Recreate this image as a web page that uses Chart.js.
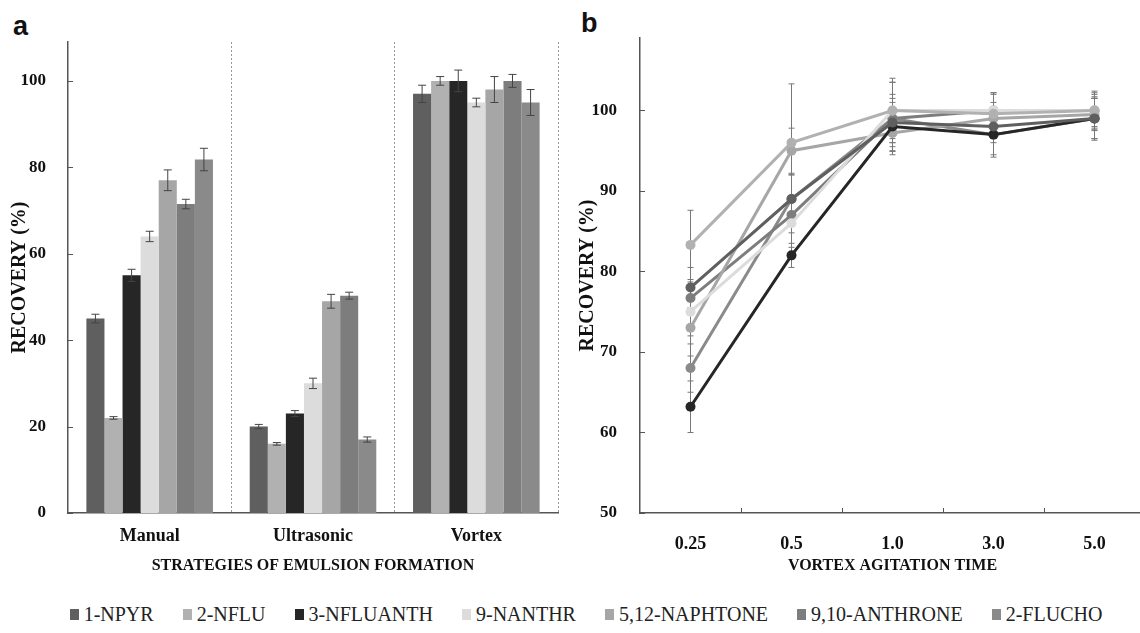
<!DOCTYPE html>
<html>
<head>
<meta charset="utf-8">
<script src="https://cdn.jsdelivr.net/npm/chart.js@4"></script>
<style>
  html, body { margin: 0; padding: 0; background: #fff; overflow: hidden; }
  body { width: 1140px; height: 633px; position: relative; }
  .panel { position: absolute; top: 0; }
  .tag { position: absolute; font-family: "Liberation Sans", Arial, sans-serif; font-weight: bold; font-size: 27px; color: #111; }
  #legend { position: absolute; left: 0; width: 1172px; top: 603px; display: flex; justify-content: center;
            gap: 29px; color: #222; }
  #legend span.item { display: flex; align-items: center; font-family: 'Liberation Serif', serif; font-size: 20px; }
  #legend i { display: inline-block; width: 9px; height: 11px; margin-right: 5px; }
</style>
</head>
<body>
<div class="tag" style="left:13px;top:11px">a</div>
<div class="tag" style="left:581px;top:8px">b</div>
<div class="panel" style="left:0;width:570px;height:580px"><canvas id="chartA"></canvas></div>
<div class="panel" style="left:570px;width:580px;height:580px"><canvas id="chartB"></canvas></div>
<div id="legend"></div>
<script>
const compounds = ['1-NPYR', '2-NFLU', '3-NFLUANTH', '9-NANTHR', '5,12-NAPHTONE', '9,10-ANTHRONE', '2-FLUCHO'];
const colors = ['#5f5f5f', '#b1b1b1', '#262626', '#dcdcdc', '#a6a6a6', '#7d7d7d', '#8a8a8a'];

// panel a: strategies of emulsion formation
const strategies = ['Manual', 'Ultrasonic', 'Vortex'];
const recoveryA = [
    [45, 20, 97],
    [22, 16, 100],
    [55, 23, 100],
    [64, 30, 95],
    [77, 49, 98],
    [71.5, 50.3, 100],
    [81.8, 17, 95]
];
const errorsA = [
    [1, 0.5, 2],
    [0.3, 0.3, 1],
    [1.4, 0.7, 2.5],
    [1.2, 1.2, 1],
    [2.4, 1.6, 3],
    [1.1, 0.8, 1.5],
    [2.6, 0.6, 3]
];
const yTicksA = [0, 20, 40, 60, 80, 100];

// panel b: vortex agitation time
const times = ['0.25', '0.5', '1.0', '3.0', '5.0'];
const recoveryB = [
    [78, 89, 98.5, 98, 99],
    [83.3, 96, 100, 99.6, 100],
    [63.2, 82, 98, 97, 99],
    [75, 86, 100, 100, 100],
    [73, 95, 97.2, 99, 99.5],
    [76.7, 87, 99, 100, 100],
    [68, 89, 99, 97, 99]
];
const errorsB = [
    [2.5, 3, 3, 2, 2.5],
    [4.3, 7.3, 4, 2.6, 2.4],
    [3.2, 1.5, 3, 2.5, 2.7],
    [3, 3, 3.5, 2, 2],
    [3.5, 2.8, 2.3, 2, 2],
    [2, 2.2, 4.5, 2.2, 2.2],
    [3, 3, 3, 2.8, 2.5]
];
const yTicksB = [50, 60, 70, 80, 90, 100];

const serif = '"Liberation Serif", "Times New Roman", serif';
const axisColor = '#555';

const errorBars = {
    id: 'errorBars',
    beforeDatasetsDraw(chart, args, opts) { if (opts.behind) draw(chart, opts); },
    afterDatasetsDraw(chart, args, opts) { if (!opts.behind) draw(chart, opts); }
};
function draw(chart, opts) {
    const ctx = chart.ctx;
    const y = chart.scales.y;
    ctx.save();
    ctx.strokeStyle = opts.color;
    ctx.lineWidth = 1;
    chart.data.datasets.forEach((ds, i) => {
        const meta = chart.getDatasetMeta(i);
        meta.data.forEach((el, j) => {
            const top = y.getPixelForValue(ds.data[j] + ds.errors[j]);
            const bot = y.getPixelForValue(ds.data[j] - ds.errors[j]);
            ctx.beginPath();
            ctx.moveTo(el.x, top); ctx.lineTo(el.x, bot);
            ctx.moveTo(el.x - opts.cap, top); ctx.lineTo(el.x + opts.cap, top);
            ctx.moveTo(el.x - opts.cap, bot); ctx.lineTo(el.x + opts.cap, bot);
            ctx.stroke();
        });
    });
    ctx.restore();
}

// short tick marks pointing into the plot
const innerTicks = {
    id: 'innerTicks',
    afterDraw(chart, args, opts) {
        const ctx = chart.ctx;
        const x = chart.scales.x, y = chart.scales.y;
        ctx.save();
        ctx.strokeStyle = axisColor;
        ctx.lineWidth = 1;
        ctx.beginPath();
        y.ticks.forEach(t => {
            const py = Math.round(y.getPixelForValue(t.value)) + 0.5;
            ctx.moveTo(x.left, py); ctx.lineTo(x.left + 5, py);
        });
        if (opts.xTicks) {
            for (let i = 1; i < x.ticks.length; i++) {
                const px = Math.round((x.getPixelForValue(i - 1) + x.getPixelForValue(i)) / 2) + 0.5;
                ctx.moveTo(px, y.bottom); ctx.lineTo(px, y.bottom - 5);
            }
        }
        ctx.stroke();
        ctx.restore();
    }
};

new Chart(document.getElementById('chartA'), {
    type: 'bar',
    data: {
        labels: strategies,
        datasets: compounds.map((name, i) => ({
            label: name,
            data: recoveryA[i],
            errors: errorsA[i],
            backgroundColor: colors[i],
            borderWidth: 0,
            categoryPercentage: 0.775,
            barPercentage: 1
        }))
    },
    options: {
        responsive: true,
        maintainAspectRatio: false,
        animation: false,
        layout: { padding: { top: 42, right: 12, left: 0, bottom: 0 } },
        plugins: {
            legend: { display: false },
            tooltip: { enabled: false },
            errorBars: { color: '#444', cap: 4, behind: false },
            innerTicks: { xTicks: false }
        },
        scales: {
            x: {
                offset: true,
                grid: { display: true, offset: true, drawTicks: false, color: '#999', lineWidth: 1 },
                border: { display: true, color: axisColor, width: 1.5, dash: [2, 2] },
                ticks: { color: '#111', padding: 13, font: { family: serif, size: 18, weight: 'bold' } },
                title: { display: true, text: 'STRATEGIES OF EMULSION FORMATION', color: '#111',
                         padding: { top: 0, bottom: 5 }, font: { family: serif, size: 16, weight: 'bold' } },
                afterFit: s => { s.height = 67; }
            },
            y: {
                min: 0,
                max: 109,
                grid: { display: false },
                border: { display: true, color: axisColor, width: 1.5 },
                afterBuildTicks: s => { s.ticks = yTicksA.map(v => ({ value: v })); },
                ticks: { color: '#111', padding: 14, font: { family: serif, size: 17, weight: 'bold' } },
                title: { display: true, text: 'RECOVERY (%)', color: '#111',
                         padding: { top: 8, bottom: 0 }, font: { family: serif, size: 20, weight: 'bold' } },
                afterFit: s => { s.width = 68; }
            }
        }
    },
    plugins: [errorBars, innerTicks]
});

new Chart(document.getElementById('chartB'), {
    type: 'line',
    data: {
        labels: times,
        datasets: compounds.map((name, i) => ({
            label: name,
            data: recoveryB[i],
            errors: errorsB[i],
            borderColor: colors[i],
            backgroundColor: colors[i],
            borderWidth: 3,
            pointRadius: 5,
            pointBorderWidth: 0,
            tension: 0
        }))
    },
    options: {
        responsive: true,
        maintainAspectRatio: false,
        animation: false,
        layout: { padding: { top: 38, right: 0, left: 0, bottom: 0 } },
        plugins: {
            legend: { display: false },
            tooltip: { enabled: false },
            errorBars: { color: '#777', cap: 3, behind: true },
            innerTicks: { xTicks: true }
        },
        scales: {
            x: {
                offset: true,
                grid: { display: false },
                border: { display: true, color: axisColor, width: 1.5 },
                ticks: { color: '#111', padding: 13, font: { family: serif, size: 18, weight: 'bold' } },
                title: { display: true, text: 'VORTEX AGITATION TIME', color: '#111',
                         padding: { top: 0, bottom: 5 }, font: { family: serif, size: 16, weight: 'bold' } },
                afterFit: s => { s.height = 67; }
            },
            y: {
                min: 50,
                max: 109,
                grid: { display: false },
                border: { display: true, color: axisColor, width: 1.5 },
                afterBuildTicks: s => { s.ticks = yTicksB.map(v => ({ value: v })); },
                ticks: { color: '#111', padding: 15, font: { family: serif, size: 17, weight: 'bold' } },
                title: { display: true, text: 'RECOVERY (%)', color: '#111',
                         padding: { top: 6, bottom: 0 }, font: { family: serif, size: 20, weight: 'bold' } },
                afterFit: s => { s.width = 70; }
            }
        }
    },
    plugins: [errorBars, innerTicks]
});

const legend = document.getElementById('legend');
compounds.forEach((name, i) => {
    const item = document.createElement('span');
    item.className = 'item';
    item.innerHTML = '<i style="background:' + colors[i] + '"></i>' + name;
    legend.appendChild(item);
});
</script>
</body>
</html>
